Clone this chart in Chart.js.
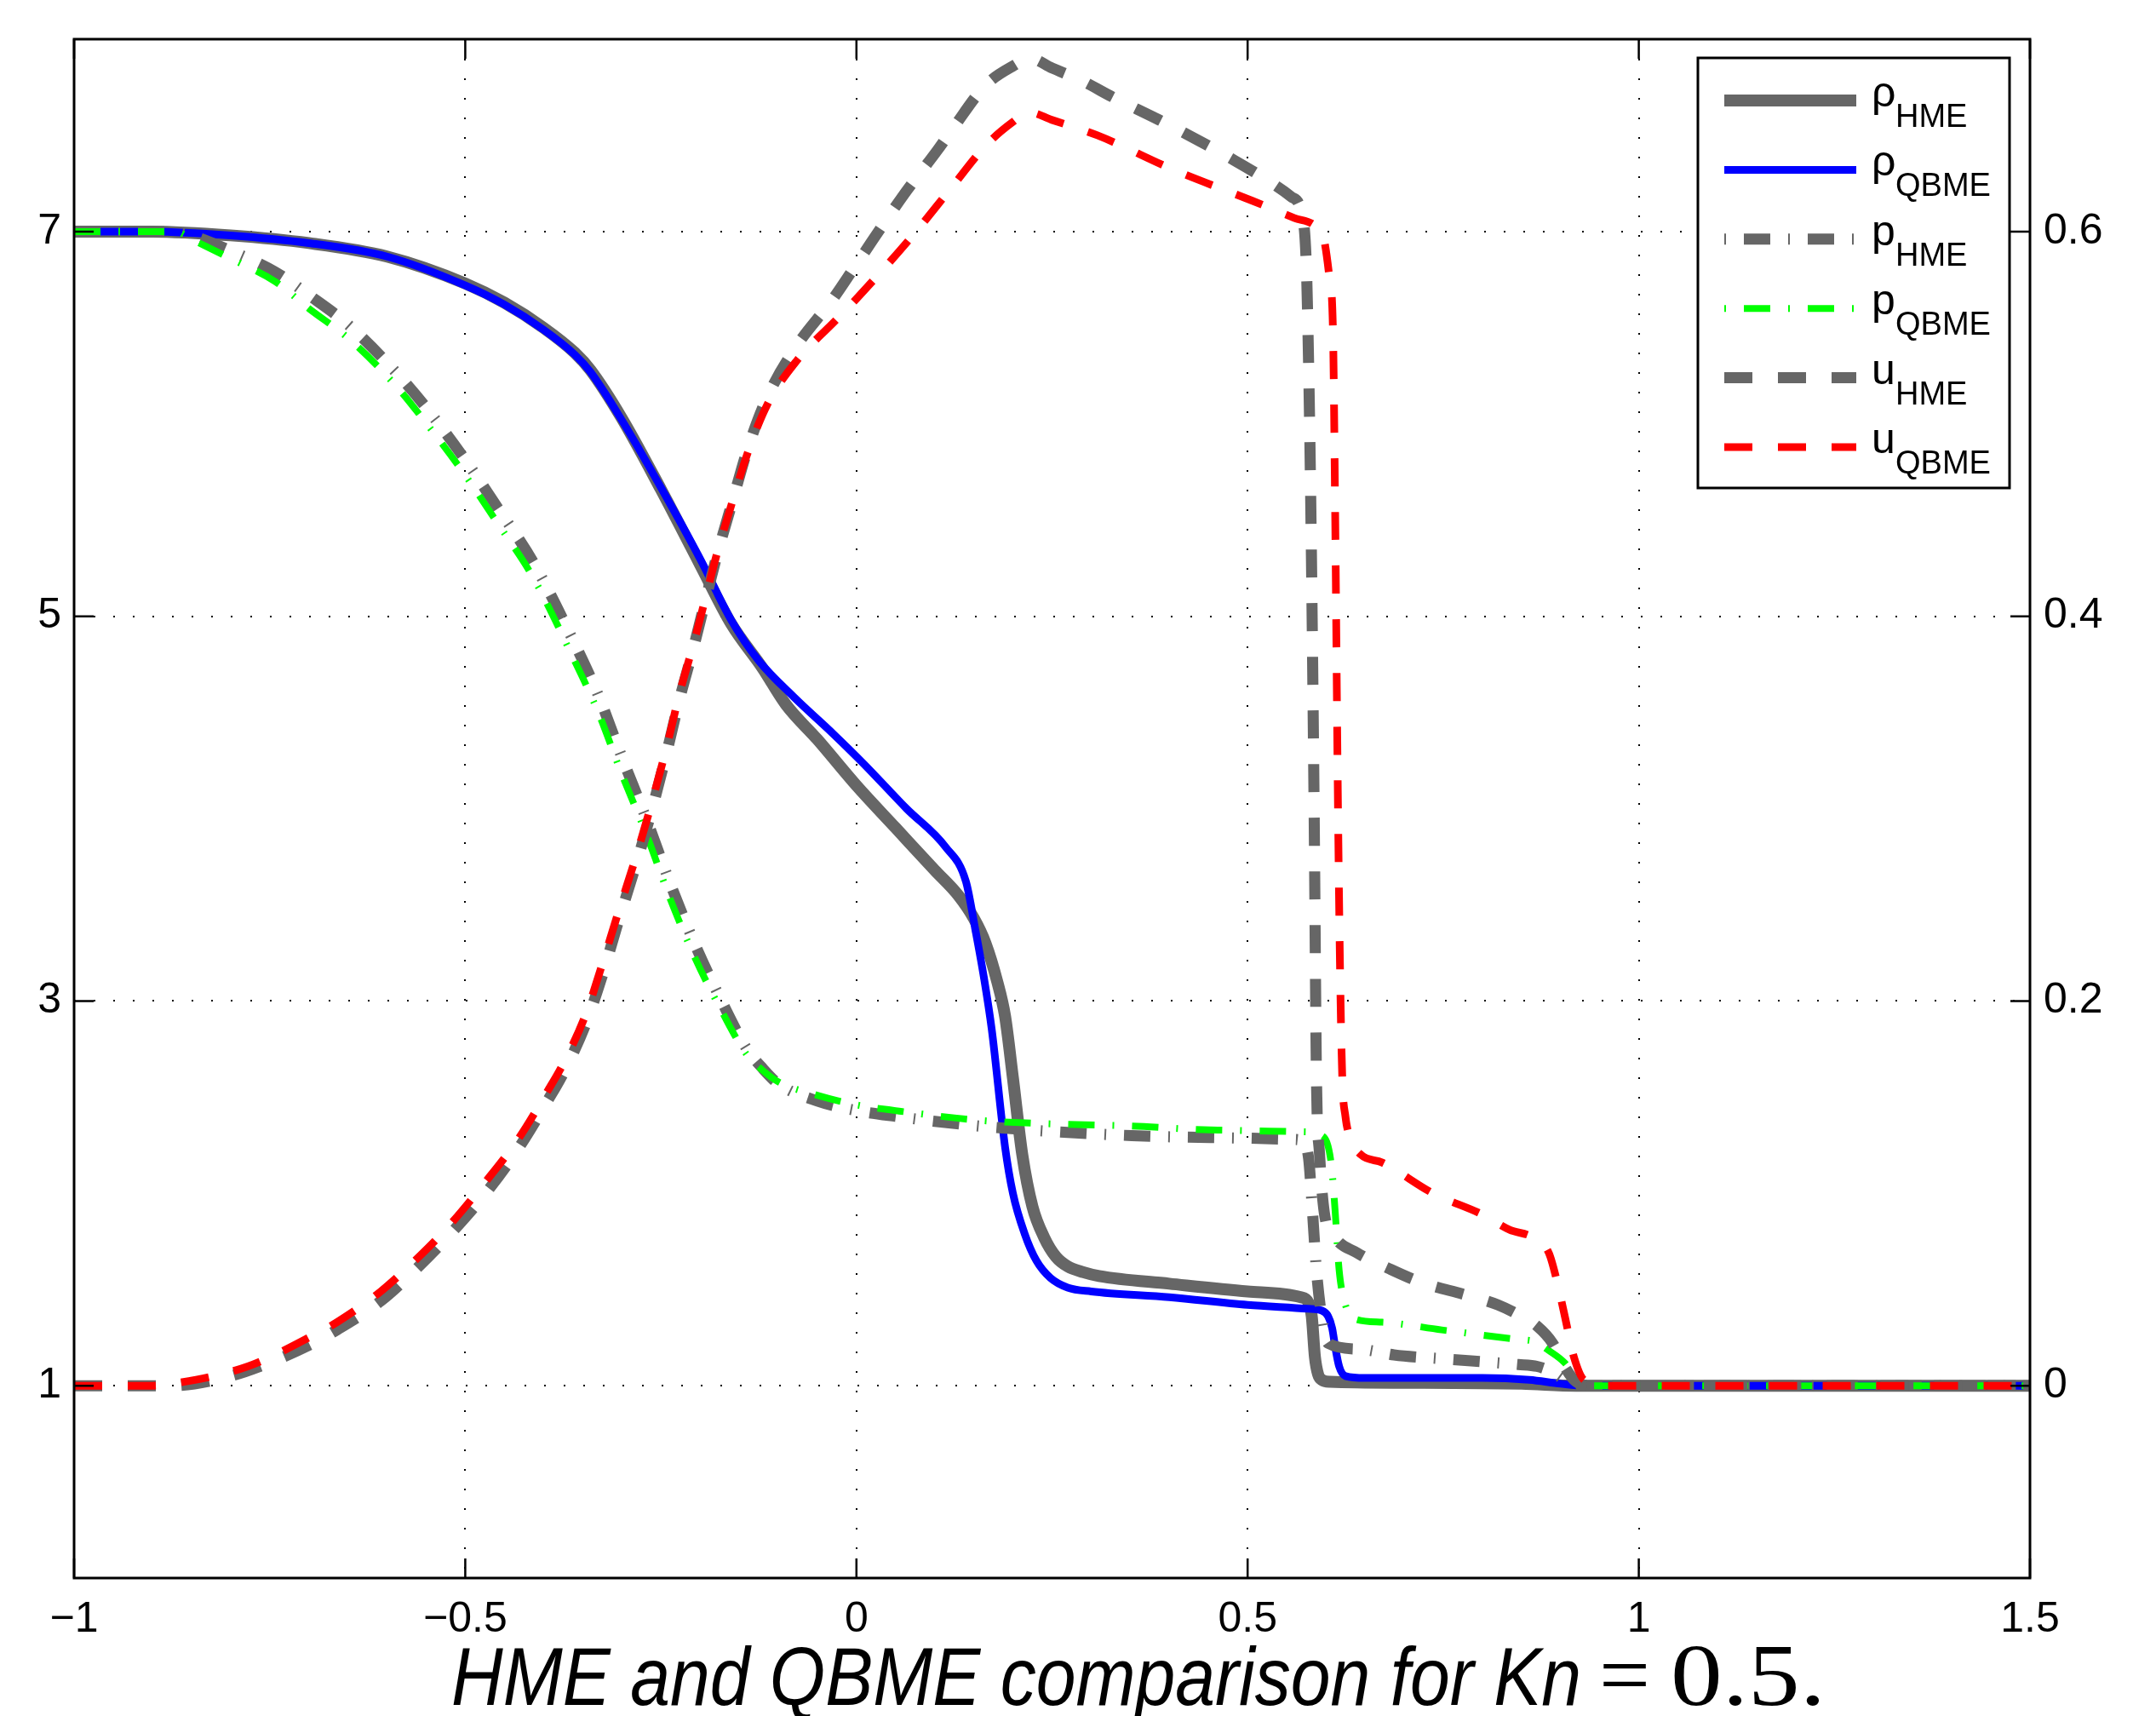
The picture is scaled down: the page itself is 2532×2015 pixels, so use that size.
<!DOCTYPE html>
<html>
<head>
<meta charset="utf-8">
<script src="https://cdn.jsdelivr.net/npm/chart.js@4.4.1/dist/chart.umd.min.js"></script>
<style>
  html, body { margin: 0; padding: 0; background: #fff; }
  #wrap { width: 2532px; height: 2015px; }
</style>
</head>
<body>
<div id="wrap"><canvas id="myChart" width="2532" height="2015"></canvas></div>
<script>
// Values (x position, left axis for rho / p, right axis for u)

var xTicks = [-1, -0.5, 0, 0.5, 1, 1.5];
var rhoTicks = [1, 3, 5, 7];
var uTicks = [0, 0.2, 0.4, 0.6];

var legendMain = ['ρ', 'ρ', 'p', 'p', 'u', 'u'];
var legendSub = ['HME', 'QBME', 'HME', 'QBME', 'HME', 'QBME'];

var titleMain = 'HME and QBME comparison for Kn';
var titleEq = '=';
var titleNum = '0.5.';

// density, HME
var xRhoHME = [-1, -0.9, -0.8, -0.7, -0.6, -0.5, -0.45, -0.4, -0.36, -0.34, -0.3, -0.25, -0.2, -0.16, -0.12, -0.09, -0.05, 0, 0.05, 0.1, 0.13, 0.15, 0.165, 0.18, 0.19, 0.2, 0.212, 0.225, 0.24, 0.255, 0.27, 0.29, 0.31, 0.4, 0.5, 0.568, 0.578, 0.582, 0.586, 0.59, 0.595, 0.605, 0.7, 0.85, 0.92, 1.0, 1.5];
var rhoHME = [7.0, 7.0, 6.98, 6.94, 6.87, 6.73, 6.63, 6.50, 6.37, 6.28, 6.03, 5.66, 5.27, 4.96, 4.73, 4.54, 4.36, 4.12, 3.90, 3.68, 3.55, 3.43, 3.30, 3.10, 2.92, 2.60, 2.20, 1.93, 1.77, 1.67, 1.62, 1.59, 1.57, 1.53, 1.49, 1.46, 1.43, 1.36, 1.15, 1.06, 1.03, 1.02, 1.015, 1.01, 1.0, 1.0, 1.0];

// density, QBME
var xRhoQBME = [-1, -0.9, -0.8, -0.7, -0.6, -0.5, -0.45, -0.4, -0.36, -0.34, -0.3, -0.25, -0.2, -0.16, -0.125, -0.08, -0.03, 0.01, 0.064, 0.114, 0.14, 0.152, 0.163, 0.173, 0.19, 0.2, 0.215, 0.23, 0.248, 0.27, 0.3, 0.4, 0.5, 0.577, 0.595, 0.603, 0.608, 0.612, 0.617, 0.625, 0.65, 0.8, 0.86, 0.9, 0.93, 1.0, 1.5];
var rhoQBME = [7.0, 7.0, 6.98, 6.94, 6.87, 6.72, 6.62, 6.49, 6.36, 6.27, 6.02, 5.67, 5.30, 4.98, 4.77, 4.58, 4.39, 4.23, 4.00, 3.80, 3.62, 3.37, 3.12, 2.85, 2.24, 2.0, 1.79, 1.65, 1.56, 1.51, 1.49, 1.46, 1.42, 1.40, 1.39, 1.36, 1.30, 1.20, 1.10, 1.05, 1.04, 1.04, 1.03, 1.01, 1.0, 1.0, 1.0];

// pressure, HME
var xPHME = [-1, -0.87, -0.85, -0.8, -0.743, -0.7, -0.648, -0.589, -0.553, -0.503, -0.458, -0.413, -0.364, -0.33, -0.301, -0.267, -0.238, -0.207, -0.17, -0.14, -0.12, -0.1, -0.05, 0, 0.05, 0.156, 0.256, 0.352, 0.452, 0.56, 0.57, 0.578, 0.583, 0.588, 0.595, 0.603, 0.643, 0.687, 0.748, 0.846, 0.87, 0.89, 0.905, 0.92, 1.0, 1.5];
var pHME = [7.0, 7.0, 6.98, 6.9, 6.79, 6.67, 6.51, 6.27, 6.10, 5.83, 5.56, 5.28, 4.89, 4.59, 4.28, 3.93, 3.61, 3.30, 2.98, 2.75, 2.65, 2.57, 2.48, 2.43, 2.40, 2.35, 2.32, 2.30, 2.29, 2.28, 2.27, 2.18, 1.9, 1.6, 1.35, 1.22, 1.19, 1.16, 1.14, 1.11, 1.10, 1.07, 1.03, 1.0, 1.0, 1.0];

// pressure, QBME
var xPQBME = [-1, -0.87, -0.85, -0.8, -0.743, -0.7, -0.648, -0.589, -0.553, -0.503, -0.458, -0.413, -0.364, -0.33, -0.301, -0.267, -0.238, -0.207, -0.17, -0.14, -0.12, -0.1, -0.05, 0, 0.05, 0.156, 0.256, 0.352, 0.452, 0.57, 0.595, 0.607, 0.612, 0.617, 0.625, 0.635, 0.672, 0.748, 0.846, 0.866, 0.886, 0.905, 0.92, 0.935, 1.0, 1.5];
var pQBME = [7.0, 7.0, 6.96, 6.86, 6.74, 6.6, 6.44, 6.20, 6.02, 5.75, 5.48, 5.20, 4.80, 4.50, 4.19, 3.85, 3.53, 3.23, 2.93, 2.72, 2.64, 2.58, 2.51, 2.46, 2.43, 2.38, 2.36, 2.35, 2.33, 2.32, 2.30, 2.15, 1.9, 1.6, 1.42, 1.35, 1.33, 1.29, 1.24, 1.23, 1.18, 1.12, 1.04, 1.0, 1.0, 1.0];

// velocity, HME (right axis)
var xUHME = [-1, -0.9, -0.875, -0.8, -0.75, -0.7, -0.664, -0.608, -0.567, -0.521, -0.474, -0.431, -0.395, -0.374, -0.346, -0.325, -0.306, -0.278, -0.259, -0.242, -0.226, -0.208, -0.192, -0.178, -0.159, -0.139, -0.115, -0.079, -0.03, 0, 0.062, 0.103, 0.124, 0.165, 0.2, 0.222, 0.25, 0.29, 0.327, 0.387, 0.425, 0.483, 0.524, 0.556, 0.568, 0.575, 0.578, 0.581, 0.585, 0.588, 0.592, 0.598, 0.61, 0.64, 0.68, 0.72, 0.78, 0.82, 0.85, 0.87, 0.89, 0.905, 0.92, 0.94, 1.0, 1.5];
var uHME = [0, 0, 0, 0.005, 0.012, 0.021, 0.029, 0.044, 0.059, 0.078, 0.100, 0.124, 0.148, 0.163, 0.188, 0.213, 0.239, 0.276, 0.303, 0.33, 0.357, 0.384, 0.41, 0.432, 0.459, 0.487, 0.513, 0.539, 0.565, 0.583, 0.620, 0.642, 0.654, 0.676, 0.686, 0.690, 0.685, 0.678, 0.670, 0.658, 0.650, 0.637, 0.627, 0.618, 0.611, 0.583, 0.53, 0.45, 0.3, 0.16, 0.12, 0.09, 0.078, 0.069, 0.061, 0.054, 0.047, 0.042, 0.036, 0.031, 0.022, 0.01, 0.002, 0, 0, 0];

// velocity, QBME (right axis)
var xUQBME = [-1, -0.9, -0.875, -0.778, -0.7, -0.664, -0.608, -0.567, -0.521, -0.474, -0.431, -0.395, -0.374, -0.346, -0.325, -0.306, -0.278, -0.259, -0.242, -0.226, -0.208, -0.192, -0.178, -0.159, -0.139, -0.114, -0.076, -0.026, 0, 0.07, 0.118, 0.166, 0.2, 0.22, 0.25, 0.308, 0.406, 0.506, 0.56, 0.586, 0.597, 0.604, 0.609, 0.612, 0.615, 0.618, 0.621, 0.625, 0.632, 0.645, 0.672, 0.737, 0.8, 0.835, 0.865, 0.885, 0.895, 0.906, 0.917, 0.93, 0.96, 1.0, 1.5];
var uQBME = [0, 0, 0.001, 0.010, 0.025, 0.033, 0.049, 0.064, 0.083, 0.106, 0.129, 0.153, 0.168, 0.193, 0.219, 0.244, 0.280, 0.307, 0.333, 0.360, 0.386, 0.411, 0.433, 0.459, 0.485, 0.510, 0.533, 0.554, 0.565, 0.597, 0.621, 0.645, 0.657, 0.662, 0.658, 0.650, 0.632, 0.616, 0.607, 0.603, 0.597, 0.578, 0.55, 0.45, 0.32, 0.22, 0.16, 0.14, 0.128, 0.12, 0.116, 0.1, 0.089, 0.081, 0.077, 0.069, 0.055, 0.035, 0.015, 0.003, 0, 0, 0];

var dashDot = [31, 21, 2, 21];
var dashed = [33, 30];
var tickLen = 23;

function toPoints(xs, ys) {
    return xs.map(function (x, i) {
        return { x: x, y: ys[i] };
    });
}

// order: lower number is drawn on top (QBME over HME, u over p over rho)
var datasets = [
    { data: toPoints(xRhoHME, rhoHME), yAxisID: 'y', borderColor: '#666666', borderWidth: 14, borderDash: [], order: 6 },
    { data: toPoints(xRhoQBME, rhoQBME), yAxisID: 'y', borderColor: '#0000ff', borderWidth: 9, borderDash: [], order: 5 },
    { data: toPoints(xPHME, pHME), yAxisID: 'y', borderColor: '#666666', borderWidth: 13, borderDash: dashDot, order: 4 },
    { data: toPoints(xPQBME, pQBME), yAxisID: 'y', borderColor: '#00ff00', borderWidth: 8, borderDash: dashDot, order: 3 },
    { data: toPoints(xUHME, uHME), yAxisID: 'y2', borderColor: '#666666', borderWidth: 13, borderDash: dashed, order: 2 },
    { data: toPoints(xUQBME, uQBME), yAxisID: 'y2', borderColor: '#ff0000', borderWidth: 9, borderDash: dashed, order: 1 }
];

var tickFont = { family: '"Liberation Sans", Arial, sans-serif', size: 50 };

// box round the plot plus inward tick marks
var framePlugin = {
    id: 'frame',
    afterDraw: function (chart) {
        var c = chart.ctx;
        var a = chart.chartArea;
        c.save();
        c.setLineDash([]);
        c.strokeStyle = '#000';
        c.lineWidth = 3;
        c.strokeRect(a.left, a.top, a.right - a.left, a.bottom - a.top);
        c.lineWidth = 2.5;
        c.beginPath();
        xTicks.forEach(function (v) {
            var px = chart.scales.x.getPixelForValue(v);
            c.moveTo(px, a.bottom);
            c.lineTo(px, a.bottom - tickLen);
            c.moveTo(px, a.top);
            c.lineTo(px, a.top + tickLen);
        });
        rhoTicks.forEach(function (v) {
            var py = chart.scales.y.getPixelForValue(v);
            c.moveTo(a.left, py);
            c.lineTo(a.left + tickLen, py);
        });
        uTicks.forEach(function (v) {
            var py = chart.scales.y2.getPixelForValue(v);
            c.moveTo(a.right, py);
            c.lineTo(a.right - tickLen, py);
        });
        c.stroke();
        c.restore();
    }
};

// legend with subscripts, drawn by hand
var legendPlugin = {
    id: 'boxLegend',
    afterDraw: function (chart) {
        var c = chart.ctx;
        var left = 1994, top = 68, right = 2360, bottom = 573;
        c.save();
        c.fillStyle = '#fff';
        c.fillRect(left, top, right - left, bottom - top);
        c.setLineDash([]);
        c.strokeStyle = '#000';
        c.lineWidth = 3;
        c.strokeRect(left, top, right - left, bottom - top);

        chart.data.datasets.forEach(function (ds, i) {
            var y = 118 + i * 81.4;
            c.strokeStyle = ds.borderColor;
            c.lineWidth = ds.borderWidth;
            c.lineCap = 'butt';
            c.setLineDash(ds.borderDash);
            c.lineDashOffset = ds.borderDash.length === 4 ? 52 : 0;
            c.beginPath();
            c.moveTo(2025, y);
            c.lineTo(2180, y);
            c.stroke();
            c.setLineDash([]);
            c.lineDashOffset = 0;

            c.fillStyle = '#000';
            c.textAlign = 'left';
            c.textBaseline = 'alphabetic';
            c.font = '50px "Liberation Sans", Arial, sans-serif';
            c.fillText(legendMain[i], 2198, y + 7);
            c.font = '38px "Liberation Sans", Arial, sans-serif';
            c.fillText(legendSub[i], 2226, y + 31);
        });
        c.restore();
    }
};

// draw text squeezed or stretched sideways to a given width
function fitText(c, text, x, y, width) {
    var w = c.measureText(text).width;
    c.save();
    c.translate(x, y);
    c.scale(width / w, 1);
    c.fillText(text, 0, 0);
    c.restore();
}

// caption under the axis: narrow italic sans part, upright serif for "= 0.5."
var titlePlugin = {
    id: 'caption',
    afterDraw: function (chart) {
        var c = chart.ctx;
        c.save();
        c.fillStyle = '#000';
        c.textAlign = 'left';
        c.textBaseline = 'alphabetic';
        c.font = 'italic 96px "Liberation Sans", Arial, sans-serif';
        fitText(c, titleMain, 530, 2002, 1327);
        c.font = '104px "Liberation Serif", "DejaVu Serif", serif';
        fitText(c, titleEq, 1878, 2002, 60);
        fitText(c, titleNum, 1962, 2002, 182);
        c.restore();
    }
};

var ctx = document.getElementById('myChart').getContext('2d');
var myChart = new Chart(ctx, {
    type: 'line',
    data: { datasets: datasets },
    options: {
        responsive: false,
        animation: false,
        devicePixelRatio: 1,
        layout: { padding: { top: 43, left: 0, right: 0, bottom: 0 } },
        elements: {
            point: { radius: 0 },
            line: { cubicInterpolationMode: 'monotone', borderCapStyle: 'butt', borderJoinStyle: 'round', fill: false }
        },
        scales: {
            x: {
                type: 'linear',
                position: 'bottom',
                min: -1,
                max: 1.5,
                afterFit: function (s) { s.height = 162; },
                afterBuildTicks: function (s) {
                    s.ticks = xTicks.map(function (v) { return { value: v }; });
                },
                ticks: {
                    font: tickFont,
                    color: '#000',
                    padding: 19,
                    maxRotation: 0,
                    callback: function (v) {
                        return v < 0 ? '\u2212' + Math.abs(v) : String(v);
                    }
                },
                grid: { color: '#000', lineWidth: 2, drawTicks: false },
                border: { display: false, dash: [2, 21] }
            },
            y: {
                type: 'linear',
                position: 'left',
                min: 0,
                max: 8,
                afterFit: function (s) { s.width = 87; },
                afterBuildTicks: function (s) {
                    s.ticks = rhoTicks.map(function (v) { return { value: v }; });
                },
                ticks: { font: tickFont, color: '#000', padding: 15 },
                grid: { color: '#000', lineWidth: 2, drawTicks: false },
                border: { display: false, dash: [2, 21] }
            },
            y2: {
                type: 'linear',
                position: 'right',
                min: -0.1,
                max: 0.7,
                afterFit: function (s) { s.width = 148; },
                afterBuildTicks: function (s) {
                    s.ticks = uTicks.map(function (v) { return { value: v }; });
                },
                ticks: {
                    font: tickFont,
                    color: '#000',
                    padding: 16,
                    callback: function (v) { return v === 0 ? '0' : v.toFixed(1); }
                },
                grid: { display: false, drawTicks: false },
                border: { display: false }
            }
        },
        plugins: {
            legend: { display: false },
            tooltip: { enabled: false },
            title: { display: false }
        }
    },
    plugins: [framePlugin, legendPlugin, titlePlugin]
});
</script>
</body>
</html>
